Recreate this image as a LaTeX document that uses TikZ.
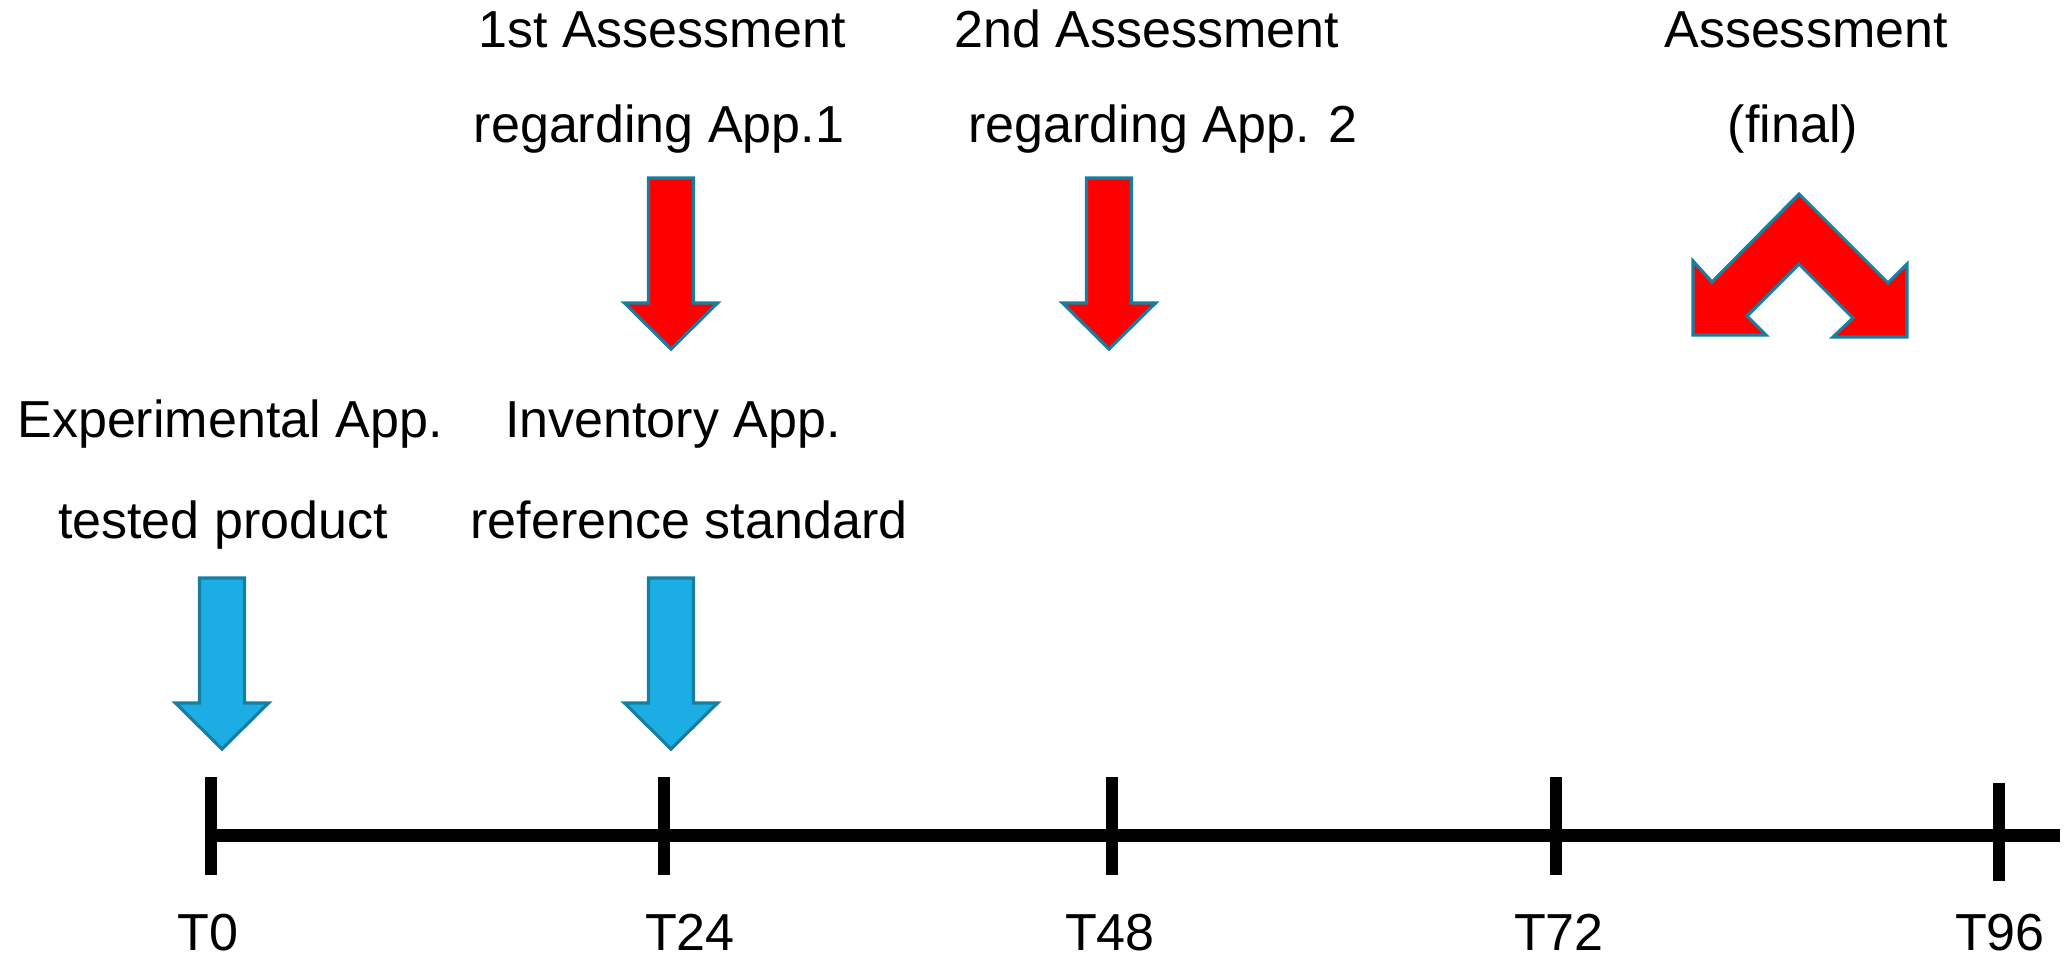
\documentclass[tikz,border=0pt]{standalone}
\usepackage{fontspec}
\setmainfont{Liberation Sans}
\definecolor{arrowred}{RGB}{255,0,0}
\definecolor{arrowblue}{RGB}{28,173,228}
\definecolor{arrowedge}{RGB}{24,126,160}
\tikzset{
  lbl/.style={anchor=base, inner sep=0pt, font=\fontsize{14.8}{18}\selectfont},
  blk/.style={draw=arrowedge, line width=0.9pt, line join=miter},
  timeline/.style={line width=3.7pt},
  tickmark/.style={line width=3.4pt}
}
% block arrow pointing down: x of tip, y of top, fill colour
\newcommand{\dnarrow}[3]{%
  \draw[blk, fill=#3] (#1-22.5,#2) -- (#1+22.5,#2) -- (#1+22.5,#2+125)
    -- (#1+46.5,#2+125) -- (#1,#2+171) -- (#1-46.5,#2+125)
    -- (#1-22.5,#2+125) -- cycle;}
\begin{document}
\begin{tikzpicture}[x=0.01cm, y=-0.01cm]
  \useasboundingbox (0,0) rectangle (2067,956);

  % texts above
  \node[lbl] (as1a) at (662,47) {1st Assessment};
  \node[lbl] (as1b) at (659,142) {regarding App.1};
  \node[lbl] (as2a) at (1147,47) {2nd Assessment};
  \node[lbl] (as2b) at (1163,142) {regarding App. 2};
  \node[lbl] (asfa) at (1806,47) {Assessment};
  \node[lbl] (asfb) at (1793,142) {(final)};

  \node[lbl] (expa) at (230,437) {Experimental App.};
  \node[lbl] (expb) at (223,538) {tested product};
  \node[lbl] (inva) at (673,437) {Inventory App.};
  \node[lbl] (invb) at (689,538) {reference standard};

  % arrows
  \dnarrow{671}{178}{arrowred}
  \dnarrow{1109}{178}{arrowred}
  \dnarrow{222}{578}{arrowblue}
  \dnarrow{671}{578}{arrowblue}

  % final assessment, two ways
  \draw[blk, fill=arrowred] (1799,194) -- (1888,283) -- (1907,264) -- (1907,337)
    -- (1833,337) -- (1853,318) -- (1799,264) -- (1747,316) -- (1766,335)
    -- (1693,335) -- (1693,261) -- (1712,282) -- cycle;

  % time line
  \coordinate (tend) at (2060,835);
  \foreach \x/\lx/\t/\d in {211/208/0/0,664/690/24/0,1112/1110/48/0,1556/1559/72/0,1999/2000/96/6}{
    \coordinate (tk\t) at (\x,835);
    \draw[tickmark] (\x,777+\d) -- (\x,875+\d);
    \node[lbl] (lab\t) at (\lx,950) {T\t};
  }
  \draw[timeline] (tk0) -- (tend);
\end{tikzpicture}
\end{document}
